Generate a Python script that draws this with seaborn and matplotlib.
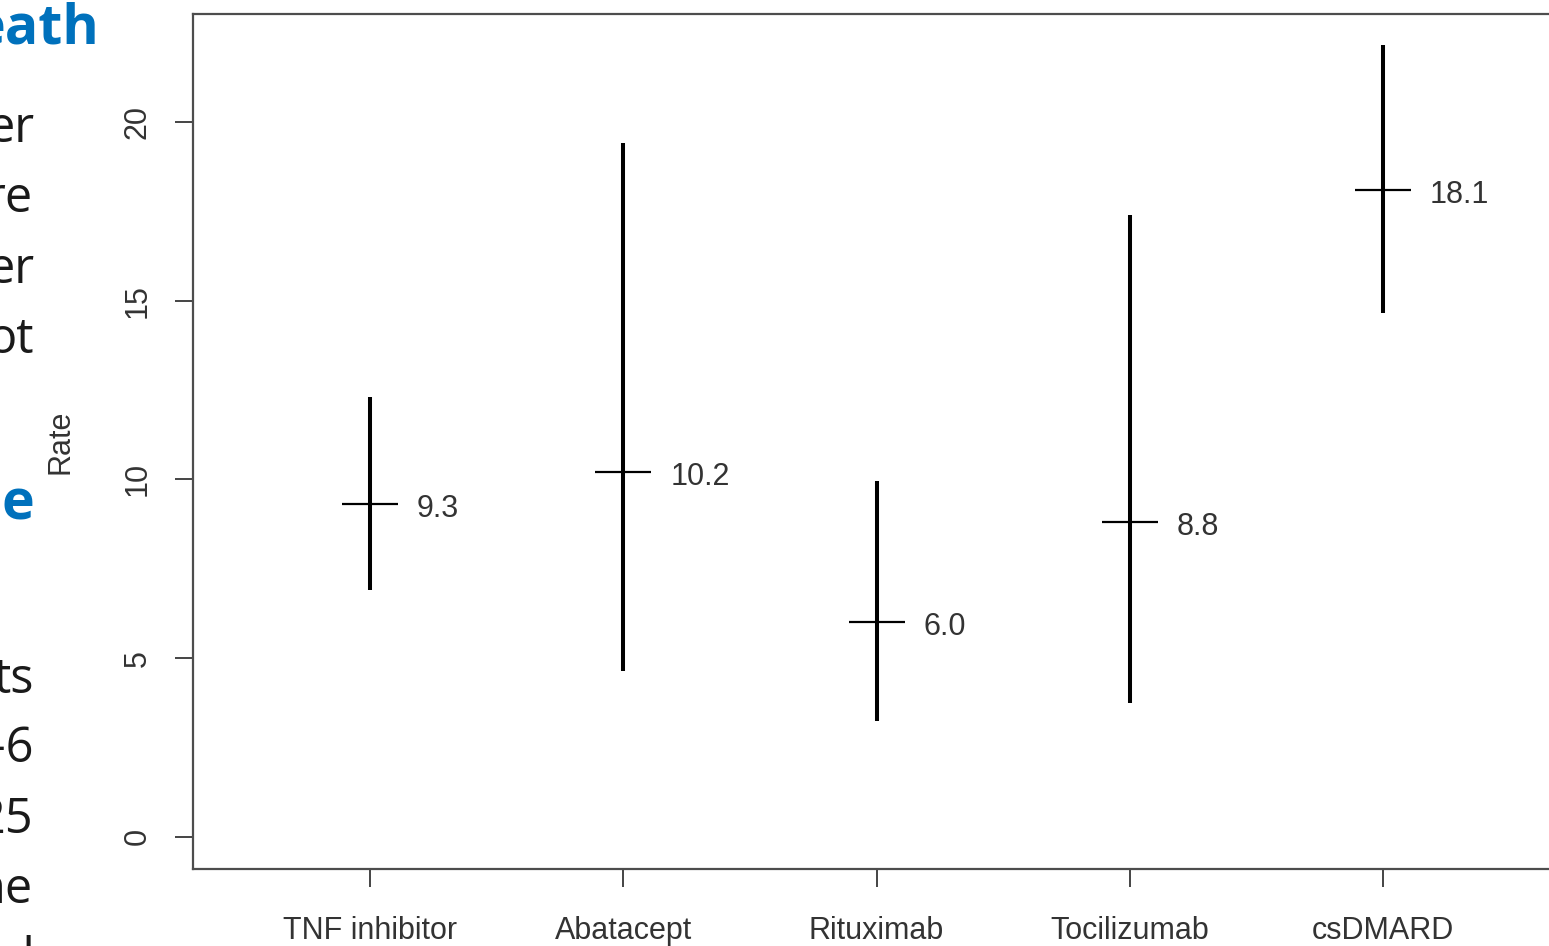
import matplotlib
matplotlib.use("Agg")
import matplotlib.pyplot as plt
import seaborn as sns
import pandas as pd

# ---- data ----
categories = ["TNF inhibitor", "Abatacept", "Rituximab", "Tocilizumab", "csDMARD"]
rates = [9.3, 10.2, 6.0, 8.8, 18.1]
lower = [6.9, 4.65, 3.25, 3.75, 14.65]
upper = [12.3, 19.4, 9.95, 17.4, 22.15]
yticks = [0, 5, 10, 15, 20]

# slide text fragments visible on the left edge: (text, baseline px, bold/blue)
side_text = ["eath", "er", "re", "er", "ot", "e", "ts", "-6", "25", "ne", "d"]
side_base = [43, 142, 212, 283, 353, 520, 693, 762, 833, 903, 973]
side_head = [True, False, False, False, False, True, False, False, False, False, False]
side_right = [99, 34, 33, 34, 34, 34, 34, 34, 33, 33, 34]

df = pd.DataFrame({"cat": categories, "rate": rates, "lo": lower, "hi": upper})

W, H = 1549, 946
sns.set_theme(style="white")
plt.rcParams["font.family"] = ["Liberation Sans", "DejaVu Sans"]

fig = plt.figure(figsize=(W / 100, H / 100), dpi=100)
fig.patch.set_facecolor("white")
ax = fig.add_axes([193 / W, (H - 869) / H, (1560 - 193) / W, (869 - 14) / H])
ax.set_facecolor("white")

pos = list(range(len(categories)))
ax.vlines(pos, df["lo"], df["hi"], color="black", linewidth=2.9, zorder=2)
sns.scatterplot(data=df, x="cat", y="rate", marker="_", s=40 ** 2,
                color="black", linewidth=1.6, ax=ax, zorder=3, legend=False)

for i, r in enumerate(rates):
    ax.text(i + 0.185, r - 0.13, f"{r:.1f}", ha="left", va="center",
            fontsize=22, color="#333333")

ax.set_xlim(-0.7, 4.7)
ax.set_ylim(-0.9, 23.02)
ax.set_yticks(yticks)
ax.set_yticklabels([str(t) for t in yticks], rotation=90, va="center")
ax.set_xticks(pos)
ax.set_xticklabels(categories)
ax.set_xlabel("")
ax.set_ylabel("Rate", fontsize=22, color="#333333")
ax.yaxis.set_label_coords(-0.086, 0.5)

for s in ax.spines.values():
    s.set_color("#4d4d4d")
    s.set_linewidth(1.6)
    s.set_visible(True)
ax.tick_params(axis="both", which="both", direction="out", length=13, width=1.4,
               color="#444444", labelsize=22, labelcolor="#333333")
ax.tick_params(axis="y", pad=16, left=True)
ax.tick_params(axis="x", pad=21, bottom=True)
ax.grid(False)

for t, b, head, rgt in zip(side_text, side_base, side_head, side_right):
    fig.text(rgt / W, 1 - b / H, t, ha="right", va="baseline",
             fontsize=40 if head else 35, family=["Open Sans", "DejaVu Sans"],
             fontweight="bold" if head else "normal",
             color="#0071BC" if head else "#1a1a1a")

fig.savefig("out.png", dpi=100, facecolor="white")
